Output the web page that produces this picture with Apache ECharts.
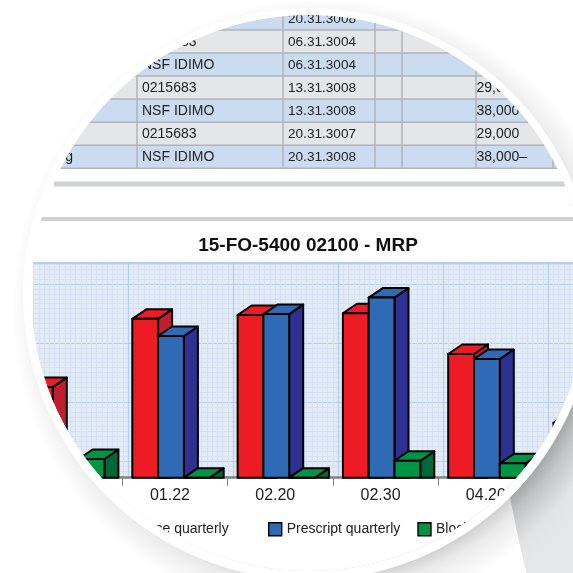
<!DOCTYPE html>
<html><head><meta charset="utf-8">
<style>html,body{margin:0;padding:0;background:#fff;overflow:hidden;width:573px;height:573px}#c{width:700px;height:573px}</style>
<script src="https://cdn.jsdelivr.net/npm/echarts@6/dist/echarts.min.js"></script>
</head><body><div id="c"></div>
<script>
// ---- data ----
const categories = ['', '01.22', '02.20', '02.30', '04.20', ''];
const seriesNames = ['Balance quarterly', 'Prescript quarterly', 'Blocked quarterly'];
const balance   = [42.2, 74.0, 75.8, 76.6, 57.6, 25.5];
const prescript = [5, 66.0, 76.2, 83.9, 55.3, 24];
const blocked   = [8.7, 0, 0, 7.9, 6.7, 5];
const chartTitle = '15-FO-5400 02100 - MRP';
const tableFirst  = ['', '', '', '', '', '', 'g'];
const tableCodes  = ['NSF IDIMO', '0215683', 'NSF IDIMO', '0215683', 'NSF IDIMO', '0215683', 'NSF IDIMO'];
const tableDates  = ['20.31.3008', '06.31.3004', '06.31.3004', '13.31.3008', '13.31.3008', '20.31.3007', '20.31.3008'];
const tableValues = ['', '', '38,000', '29,000', '38,000', '29,000', '38,000–'];

// ---- layout ----
const DISC = {x: 309, y: 294, r: 286};
const LENS = {x: 309, y: 293, r: 278};
const TABLE = {rowTop: 7, rowH: 23.03, cols: [137, 283, 375, 402, 476, 553], left: 30, right: 700};
const PLOT = {left: 17, band: 105.3, top: 263, bottom: 477.7};
const BAR = {start: 10, width: 25.8, dx: 14, dy: 9.5};
const COLORS = [
  {front: '#ed1c24', top: '#ed1c24', side: '#be1e2d'},
  {front: '#2e6bb4', top: '#2e6bb4', side: '#2e3192'},
  {front: '#009444', top: '#009444', side: '#006838'}
];
const circlePath = (c, reverse) => {
  const s = reverse ? 0 : 1;
  return `M${c.x - c.r} ${c.y}A${c.r} ${c.r} 0 1 ${s} ${c.x + c.r} ${c.y}A${c.r} ${c.r} 0 1 ${s} ${c.x - c.r} ${c.y}Z`;
};

function bar3d(idx) {
  return function (params, api) {
    const i = api.value(0), v = api.value(1);
    const band = api.size([1, 0])[0];
    const base = api.coord([i, 0]);
    const top = api.coord([i, v]);
    const x0 = base[0] - band / 2 + BAR.start + idx * BAR.width;
    const x1 = x0 + BAR.width;
    const yb = base[1], yt = top[1];
    const c = COLORS[idx];
    const st = {stroke: '#000', lineWidth: 2, lineJoin: 'round'};
    return {type: 'group', children: [
      {type: 'polygon', shape: {points: [[x1, yt], [x1 + BAR.dx, yt - BAR.dy], [x1 + BAR.dx, yb], [x1, yb]]}, style: {fill: c.side, ...st}},
      {type: 'polygon', shape: {points: [[x0, yt], [x0 + BAR.dx, yt - BAR.dy], [x1 + BAR.dx, yt - BAR.dy], [x1, yt]]}, style: {fill: c.top, ...st}},
      {type: 'rect', shape: {x: x0, y: yt, width: BAR.width, height: yb - yt}, style: {fill: c.front, ...st}}
    ]};
  };
}

// ---- table as graphic elements ----
const gfx = [];
const font = (s) => `${s}px "Liberation Sans", Arial, sans-serif`;
const nRows = tableCodes.length;
for (let r = 0; r < nRows; r++) {
  const y = TABLE.rowTop + r * TABLE.rowH;
  gfx.push({type: 'rect', z: 1, shape: {x: TABLE.left, y, width: TABLE.right - TABLE.left, height: TABLE.rowH},
    style: {fill: r % 2 ? '#e5e6e8' : '#cbdcf0'}});
  gfx.push({type: 'line', z: 2, shape: {x1: TABLE.left, y1: y + TABLE.rowH, x2: TABLE.right, y2: y + TABLE.rowH},
    style: {stroke: '#b1b4b8', lineWidth: 1.5}});
  const cy = y + TABLE.rowH / 2 + 0.5;
  const addText = (t, x, size, align) => { if (t) gfx.push({type: 'text', z: 3, x, y: cy,
    style: {text: t, font: font(size), fill: '#222', textVerticalAlign: 'middle', textAlign: align || 'left'}}); };
  addText(tableFirst[r], 73, 14, 'right');
  addText(tableCodes[r], 142, 14);
  addText(tableDates[r], 288, 13.6);
  addText(tableValues[r], 476.5, 14);
}
TABLE.cols.forEach(x => gfx.push({type: 'line', z: 2,
  shape: {x1: x, y1: TABLE.rowTop, x2: x, y2: TABLE.rowTop + nRows * TABLE.rowH},
  style: {stroke: '#b1b4b8', lineWidth: 1.5}}));

// separators and covers around the plot paper
gfx.push({type: 'rect', z: 4, shape: {x: 0, y: 170, width: 700, height: 92}, style: {fill: '#fff'}});
gfx.push({type: 'rect', z: 4, shape: {x: 0, y: 478, width: 700, height: 95}, style: {fill: '#fff'}});
gfx.push({type: 'rect', z: 4, shape: {x: 0, y: 262, width: 33, height: 217}, style: {fill: '#fff'}});
gfx.push({type: 'rect', z: 5, shape: {x: 54, y: 181.5, width: 512, height: 5}, style: {fill: '#d0d1d3'}});
gfx.push({type: 'rect', z: 5, shape: {x: 41, y: 217, width: 540, height: 4}, style: {fill: '#d0d1d3'}});
gfx.push({type: 'line', z: 5, shape: {x1: 33, y1: 263, x2: 700, y2: 263}, style: {stroke: '#a9c6e6', lineWidth: 1.6}});

// lens mask, handle wedge, shadow, white ring (drawn as a coordinate-free custom series)
function lensOverlay() {
  return {type: 'group', children: [
    {type: 'path', z2: 1, shape: {pathData: 'M-5 -5H705V580H-5Z' + circlePath(LENS, true)}, style: {fill: '#fff'}},
    {type: 'path', z2: 2, shape: {pathData: 'M510 497L573 395L585 395L585 580L528 580Q518 540 510 497Z'},
      style: {fill: {type: 'radial', x: 309, y: 294, r: 350, global: true, colorStops: [
        {offset: 0.8, color: '#c8c9cb'}, {offset: 0.93, color: '#e3e4e6'}, {offset: 1, color: '#e6e7e9'}]}}},
    {type: 'path', z2: 3, shape: {pathData: circlePath({x: DISC.x, y: DISC.y, r: 340}, false) + circlePath(LENS, true)},
      style: {fill: {type: 'radial', x: 322, y: 308, r: 320, global: true, colorStops: [
        {offset: 0.8, color: 'rgba(0,0,0,0.26)'}, {offset: 0.88, color: 'rgba(0,0,0,0.08)'}, {offset: 0.97, color: 'rgba(0,0,0,0)'}, {offset: 1, color: 'rgba(0,0,0,0)'}]}}},
    {type: 'path', z2: 4, shape: {pathData: circlePath(DISC, false) + circlePath(LENS, true)}, style: {fill: '#fff'}}
  ]};
}

const allValues = [balance, prescript, blocked];
const legendBase = {itemWidth: 13, itemHeight: 13, z: 20, top: 517, icon: 'rect', selectedMode: false,
  itemStyle: {borderColor: '#000', borderWidth: 1.4},
  textStyle: {fontFamily: '"Liberation Sans", Arial, sans-serif', fontSize: 14, color: '#222'}};
const option = {
  animation: false,
  backgroundColor: '#fff',
  title: {text: chartTitle, left: 303, top: 231, textAlign: 'center', z: 20,
    textStyle: {fontFamily: '"Liberation Sans", Arial, sans-serif', fontWeight: 'bold', fontSize: 19, color: '#111'}},
  legend: [
    {...legendBase, data: seriesNames.slice(0, 1), left: 96},
    {...legendBase, data: seriesNames.slice(1), left: 263, itemGap: 17}
  ],
  graphic: {elements: gfx},
  grid: [
    {left: PLOT.left, top: PLOT.top, width: PLOT.band * categories.length, height: PLOT.bottom - PLOT.top},
    {left: 23, top: 225, width: 630, height: 295, show: true, backgroundColor: '#e3ebf7', borderWidth: 0}
  ],
  xAxis: [
    {type: 'category', gridIndex: 0, data: categories, z: 6,
      axisLine: {lineStyle: {color: '#808285', width: 2.6}},
      axisTick: {show: true, alignWithLabel: false, length: 8, lineStyle: {color: '#808285', width: 1}},
      axisLabel: {color: '#222', fontSize: 16, margin: 10, padding: [0, 10, 0, 0], interval: 0,
        fontFamily: '"Liberation Sans", Arial, sans-serif'}},
    {type: 'value', gridIndex: 1, min: 0, max: 6, interval: 1, z: 0,
      axisLine: {show: false}, axisTick: {show: false}, axisLabel: {show: false},
      minorTick: {show: false, splitNumber: 20},
      splitLine: {show: true, lineStyle: {color: '#b5cfea', width: 1.2}},
      minorSplitLine: {show: true, lineStyle: {color: '#d6e2f3', width: 1}}}
  ],
  yAxis: [
    {type: 'value', gridIndex: 0, min: 0, max: 100, show: false},
    {type: 'value', gridIndex: 1, min: 0, max: 5, interval: 1, z: 0,
      axisLine: {show: false}, axisTick: {show: false}, axisLabel: {show: false},
      minorTick: {show: false, splitNumber: 12},
      splitLine: {show: true, lineStyle: {color: '#b5cfea', width: 1.2}},
      minorSplitLine: {show: true, lineStyle: {color: '#d6e2f3', width: 1}}}
  ],
  series: seriesNames.map((name, idx) => ({
    name, type: 'custom', xAxisIndex: 0, yAxisIndex: 0, z: 10 + idx,
    itemStyle: {color: COLORS[idx].front},
    encode: {x: 0, y: 1},
    renderItem: bar3d(idx),
    data: allValues[idx].map((v, i) => [i, v])
  })).concat([{
    name: 'lens', type: 'custom', coordinateSystem: 'none', z: 50, silent: true,
    renderItem: lensOverlay, data: [[0]]
  }])
};
echarts.init(document.getElementById('c'), null, {renderer: 'canvas'}).setOption(option);
</script></body></html>
